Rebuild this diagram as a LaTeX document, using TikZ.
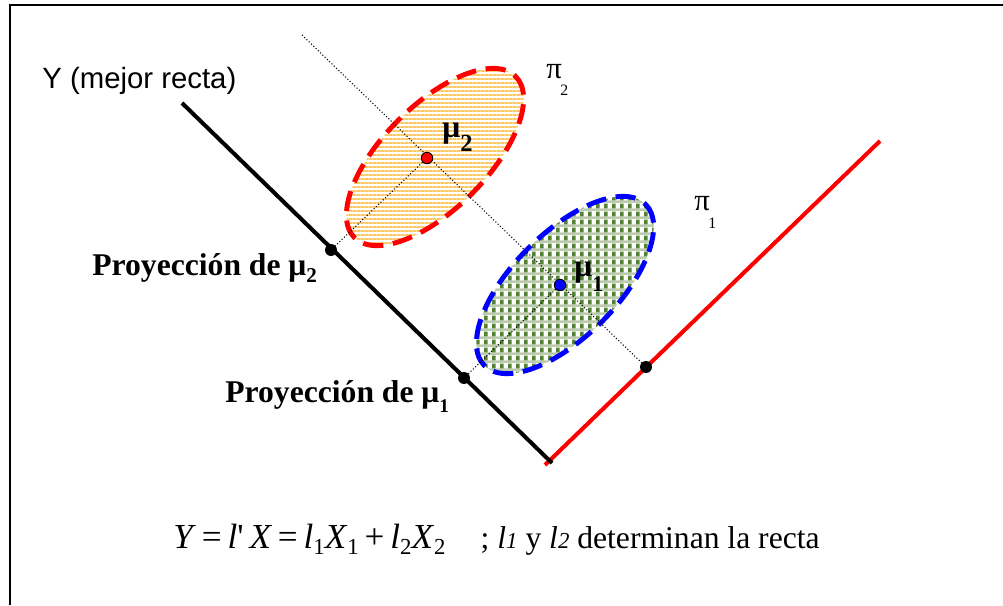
\documentclass[tikz,border=0pt]{standalone}
\usepackage{fontspec}
\setmainfont{Liberation Serif}
\newfontfamily\arialfont{Liberation Sans}
\usepackage{tikz}
\usetikzlibrary{patterns, positioning, calc}
\usepackage{xcolor}
\definecolor{naranja}{RGB}{255,200,90}
\definecolor{verde}{RGB}{84,130,53}
\definecolor{rojo}{RGB}{255,0,0}
\definecolor{azul}{RGB}{0,0,255}

% rayas horizontales (poblacion 2)
\pgfdeclarepatternformonly{rayas}{\pgfpointorigin}{\pgfqpoint{2.4pt}{2.4pt}}{\pgfqpoint{2.4pt}{2.4pt}}{
  \pgfpathrectangle{\pgfpointorigin}{\pgfqpoint{2.4pt}{1.2pt}}
  \pgfusepath{fill}
}
% cuadros verdes (poblacion 1)
\pgfdeclarepatterninherentlycolored{cuadros}{\pgfpointorigin}{\pgfqpoint{4.6pt}{4.6pt}}{\pgfqpoint{4.6pt}{4.6pt}}{
  \pgfsetfillcolor{verde!40}
  \pgfpathrectangle{\pgfpointorigin}{\pgfqpoint{4.6pt}{1.6pt}}
  \pgfusepath{fill}
  \pgfsetfillcolor{verde}
  \pgfpathrectangle{\pgfqpoint{0pt}{1.6pt}}{\pgfqpoint{2.3pt}{3pt}}
  \pgfusepath{fill}
}

\newcommand{\indice}[3]{\raisebox{-#1}{\fontsize{#2}{#2}\selectfont #3}}

\begin{document}
\begin{tikzpicture}[x=0.02cm, y=-0.02cm,
    recta/.style={line width=2.3pt},
    borde/.style={line width=2.8pt, dash pattern=on 11.5pt off 5.5pt},
    punteado/.style={line width=0.6pt, dash pattern=on 0.6pt off 1.2pt},
    punto/.style={circle, fill=black, inner sep=0pt, minimum size=6.8pt},
    media/.style={circle, draw=black, line width=0.5pt, inner sep=0pt, minimum size=6.5pt},
    etiq/.style={font=\fontsize{18}{21}\selectfont\bfseries, inner sep=0pt, anchor=base west}]
  \useasboundingbox (0,0) rectangle (1003,605);
  % marco
  \draw[line width=1.1pt] (10,605) |- (1003,5);

  \coordinate (c2) at (435,157);
  \coordinate (c1) at (565,285);
  \coordinate (m2) at (427,158);
  \coordinate (m1) at (560,285);
  \coordinate (p2) at (331,250);
  \coordinate (p1) at (464,378);
  \coordinate (q1) at (646,367);
  \coordinate (arriba) at (302,35);
  \coordinate (Ya) at (182,103);
  \coordinate (Yb) at (552,463);
  \coordinate (Ra) at (545,465);
  \coordinate (Rb) at (880,141);

  % poblaciones
  \fill[pattern=rayas, pattern color=naranja] (c2) ellipse [x radius=114, y radius=52, rotate=45];
  \draw[borde, rojo] (c2) ellipse [x radius=114, y radius=52, rotate=45];
  \fill[pattern=cuadros] (c1) ellipse [x radius=114, y radius=52, rotate=45];
  \draw[borde, azul] (c1) ellipse [x radius=114, y radius=52, rotate=45];

  % rectas
  \draw[recta, rojo] (Ra) -- (Rb);
  \draw[recta] (Ya) -- (Yb);
  \draw[punteado] (arriba) -- (q1);
  \draw[punteado] (m2) -- (p2);
  \draw[punteado] (m1) -- (p1);

  \node[punto] (P2) at (p2) {};
  \node[punto] (P1) at (p1) {};
  \node[punto] (Q1) at (q1) {};
  \node[media, fill=rojo] (M2) at (m2) {};
  \node[media, fill=azul] (M1) at (m1) {};

  % textos
  \node[font=\arialfont\fontsize{16.7}{20}\selectfont, inner sep=0pt, anchor=base west] (tY) at (42,88) {Y (mejor recta)};
  \node[etiq] (tP2) at (92,275) {Proyección de μ\indice{4pt}{12}{2}};
  \node[etiq] (tP1) at (225,402) {Proyección de μ\indice{6pt}{11}{1}};
  \node[etiq] (tM2) at (442,137) {μ\indice{8.5pt}{14}{2}};
  \node[etiq] (tM1) at (574,276) {μ\indice{9pt}{12.5}{1}};
  \node[font=\fontsize{17.5}{20}\selectfont, inner sep=0pt, anchor=base west] (pi2) at (546,78) {π};
  \node[font=\fontsize{9}{10}\selectfont, inner sep=0pt, anchor=base west] (s2) at (560,95) {2};
  \node[font=\fontsize{17.5}{20}\selectfont, inner sep=0pt, anchor=base west] (pi1) at (694,210) {π};
  \node[font=\fontsize{9}{10}\selectfont, inner sep=0pt, anchor=base west] (s1) at (708,228) {1};
  \node[font=\fontsize{20}{24}\selectfont, inner sep=0pt, anchor=base west] (form) at (173,548)
    {\textit{Y}\,=\,\textit{l}\textquotesingle\,\textit{X}\,=\,\textit{l}\indice{3.5pt}{13}{1}\textit{X}\indice{3.5pt}{13}{1}\,+\,\textit{l}\indice{3.5pt}{13}{2}\textit{X}\indice{3.5pt}{13}{2}\hspace{1em}{\fontsize{18}{22}\selectfont; \textit{l}\textit{\fontsize{13}{13}\selectfont 1} y \textit{l}\textit{\fontsize{13}{13}\selectfont 2} determinan la recta}};
\end{tikzpicture}
\end{document}
